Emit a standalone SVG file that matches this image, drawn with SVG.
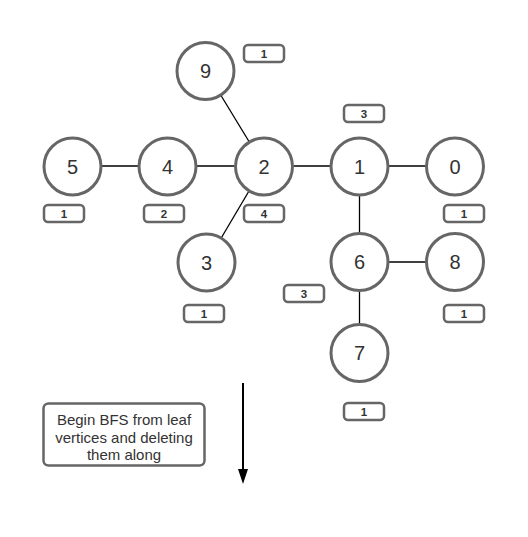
<svg xmlns="http://www.w3.org/2000/svg" width="528" height="537" viewBox="0 0 528 537">
<defs>
<style>
.node circle{fill:#fff;stroke:#666;stroke-width:3}
.node text{font-family:"Liberation Sans",Arial,sans-serif;font-size:20px;fill:#333;text-anchor:middle;dominant-baseline:central}
.badge rect{fill:#fff;stroke:#666;stroke-width:2.5}
.badge text{font-family:"Liberation Sans",Arial,sans-serif;font-size:11.5px;font-weight:bold;fill:#333;text-anchor:middle;dominant-baseline:central}
.edge{stroke:#000;stroke-width:1.3;fill:none}
.note rect{fill:#fff;stroke:#666;stroke-width:2.5}
.note text{font-family:"Liberation Sans",Arial,sans-serif;font-size:15px;fill:#333;text-anchor:middle}
</style>
</defs>
<rect width="528" height="537" fill="#fff"/>
<g id="connectors">
<line class="edge" x1="102" y1="166" x2="138" y2="166"/>
<line class="edge" x1="197" y1="166" x2="234" y2="166"/>
<line class="edge" x1="294" y1="166" x2="330" y2="166"/>
<line class="edge" x1="389" y1="166" x2="426" y2="166"/>
<line class="edge" x1="359.5" y1="196" x2="359.5" y2="233"/>
<line class="edge" x1="389" y1="262" x2="426" y2="262"/>
<line class="edge" x1="359.5" y1="291" x2="359.5" y2="324"/>
<line class="edge" x1="221" y1="95.5" x2="249" y2="141.5"/>
<line class="edge" x1="249" y1="191" x2="221.5" y2="237.5"/>
<line x1="243" y1="383" x2="243" y2="470" stroke="#000" stroke-width="2"/>
<path d="M238,469 L248,469 L243,484 Z" fill="#000"/>
</g>
<g id="node-9" class="node"><circle cx="205.5" cy="71" r="28.5"/><text x="205.5" y="71">9</text></g>
<g id="node-5" class="node"><circle cx="72.5" cy="166.5" r="28.5"/><text x="72.5" y="166.5">5</text></g>
<g id="node-4" class="node"><circle cx="167.5" cy="166.5" r="28.5"/><text x="167.5" y="166.5">4</text></g>
<g id="node-2" class="node"><circle cx="264" cy="166.5" r="28.5"/><text x="264" y="166.5">2</text></g>
<g id="node-1" class="node"><circle cx="359.5" cy="166.5" r="28.5"/><text x="359.5" y="166.5">1</text></g>
<g id="node-0" class="node"><circle cx="455" cy="166.5" r="28.5"/><text x="455" y="166.5">0</text></g>
<g id="node-3" class="node"><circle cx="206.5" cy="262.5" r="28.5"/><text x="206.5" y="262.5">3</text></g>
<g id="node-6" class="node"><circle cx="359.5" cy="262" r="28.5"/><text x="359.5" y="262">6</text></g>
<g id="node-8" class="node"><circle cx="455" cy="262" r="28.5"/><text x="455" y="262">8</text></g>
<g id="node-7" class="node"><circle cx="359.5" cy="353" r="28.5"/><text x="359.5" y="353">7</text></g>
<g id="badge-9" class="badge"><rect x="244" y="45" width="40" height="17" rx="4"/><text x="264" y="53.5">1</text></g>
<g id="badge-1" class="badge"><rect x="344" y="105" width="40" height="17" rx="4"/><text x="364" y="113.5">3</text></g>
<g id="badge-5" class="badge"><rect x="44" y="205" width="40" height="17" rx="4"/><text x="64" y="213.5">1</text></g>
<g id="badge-4" class="badge"><rect x="144" y="205" width="40" height="17" rx="4"/><text x="164" y="213.5">2</text></g>
<g id="badge-2" class="badge"><rect x="244" y="205" width="40" height="17" rx="4"/><text x="264" y="213.5">4</text></g>
<g id="badge-0" class="badge"><rect x="444" y="205" width="40" height="17" rx="4"/><text x="464" y="213.5">1</text></g>
<g id="badge-6" class="badge"><rect x="284" y="285" width="40" height="17" rx="4"/><text x="304" y="293.5">3</text></g>
<g id="badge-3" class="badge"><rect x="184" y="305" width="40" height="17" rx="4"/><text x="204" y="313.5">1</text></g>
<g id="badge-8" class="badge"><rect x="444" y="305" width="40" height="17" rx="4"/><text x="464" y="313.5">1</text></g>
<g id="badge-7" class="badge"><rect x="344" y="403" width="40" height="17" rx="4"/><text x="364" y="411.5">1</text></g>
<g id="note" class="note"><rect x="43.5" y="403.5" width="161" height="62" rx="5"/>
<text x="124" y="425">Begin BFS from leaf</text>
<text x="124" y="443">vertices and deleting</text>
<text x="124" y="460">them along</text></g>
</svg>
